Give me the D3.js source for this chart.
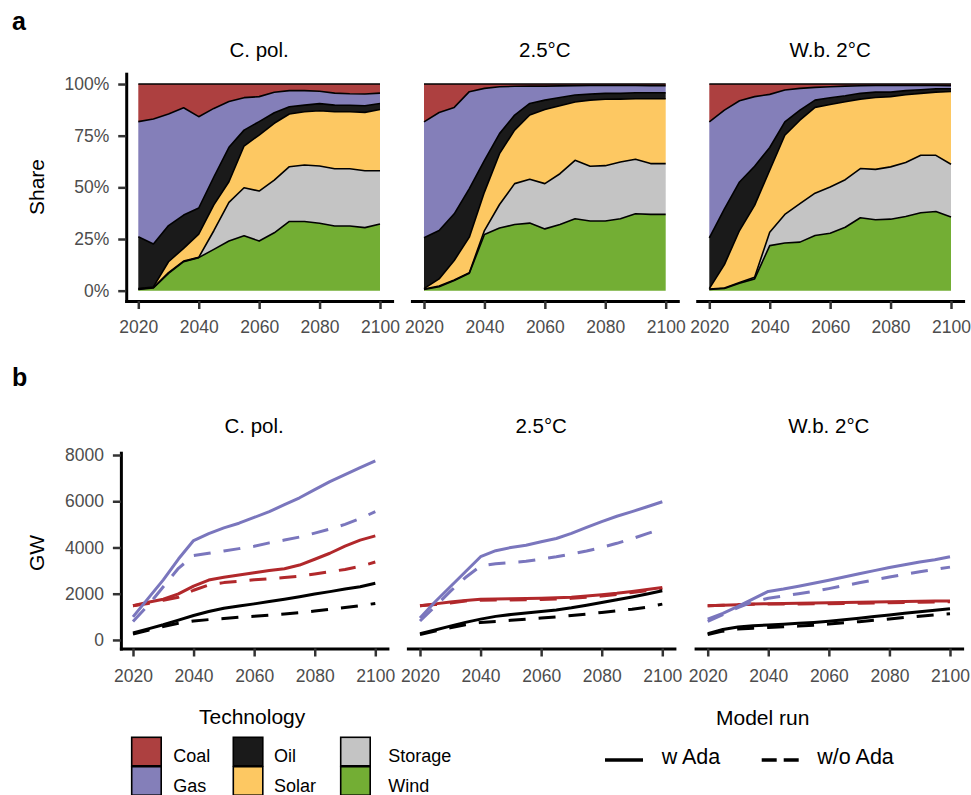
<!DOCTYPE html>
<html>
<head>
<meta charset="utf-8">
<script src="https://cdn.jsdelivr.net/npm/d3@7"></script>
<style>
  body { margin: 0; background: #fff; }
  svg { font-family: "Liberation Sans", Arial, Helvetica, sans-serif; }
  .tick text { fill: #4d4d4d; font-size: 17.5px; }
  .tick line { stroke: #333; stroke-width: 2.5; }
  .domain { stroke: #000; stroke-width: 3; }
</style>
</head>
<body>
<script>
// ---- data ----
var years = [2020, 2025, 2030, 2035, 2040, 2045, 2050, 2055, 2060, 2065, 2070, 2075, 2080, 2085, 2090, 2095, 2100];
var scenarios = ["C. pol.", "2.5°C", "W.b. 2°C"];
var techs = ["Coal", "Gas", "Oil", "Solar", "Storage", "Wind"];
var techColors = ["#ad4040", "#847fb9", "#1a1a1a", "#fdc862", "#c4c4c4", "#73ae34"];
var stackOrder = ["Wind", "Storage", "Solar", "Oil", "Gas", "Coal"];
var xTicks = [2020, 2040, 2060, 2080, 2100];

// shares (%) per technology, one row per scenario
var windShare = [
  [0.6, 1.3, 8.4, 14, 16, 20, 24, 26.6, 24, 28, 33.5, 33.5, 32.6, 31.3, 31.3, 30.5, 32.3],
  [0.6, 1.9, 4.9, 8.4, 27.2, 30.3, 32, 32.7, 29.9, 32, 34.8, 33.7, 33.7, 34.8, 37.2, 36.9, 36.9],
  [0.6, 1.1, 3.6, 5.7, 21.8, 23.1, 23.5, 26.7, 27.8, 30.7, 35.3, 34.3, 34.6, 35.9, 37.7, 38.3, 35.6]
];
var storageShare = [
  [0.2, 0.2, 0.3, 0.3, 0.1, 9, 18.7, 23.2, 24.2, 25.5, 26.5, 27.3, 27.7, 27.7, 27.7, 27.5, 25.7],
  [0.2, 0.4, 0.3, 0.3, 1.9, 11.4, 19.8, 21.2, 21.9, 24.6, 28.3, 26.5, 26.8, 27.5, 26.4, 24.6, 24.6],
  [0.2, 0.2, 0.3, 0.8, 6.5, 13.8, 18.6, 20.5, 22.4, 23, 23.8, 24.4, 25.3, 26.1, 27.8, 27.2, 25.6]
];
var solarShare = [
  [0.2, 0.3, 5.3, 6.2, 11.3, 12.5, 10, 20.2, 27.1, 27.5, 25.5, 25.8, 26.8, 27.6, 27.6, 28.3, 29.7],
  [0.2, 3.4, 9.4, 17.2, 18.6, 24.6, 25.9, 31.1, 35.9, 32.9, 28.2, 32, 32.1, 30.4, 29.3, 31.4, 31.4],
  [0.2, 11.3, 25.2, 34.8, 30, 38.3, 40.4, 41.5, 39.9, 37.7, 33.6, 34.8, 34, 32.8, 30, 30.6, 35.2]
];
var oilShare = [
  [25.1, 20.8, 17.5, 16.1, 12.6, 13.5, 16.7, 7.7, 6.5, 5.1, 3.5, 3.2, 3.4, 3.2, 3.1, 3.2, 2.9],
  [24.6, 23.4, 22.6, 23.5, 15.4, 9.7, 7.3, 5.6, 4.5, 4, 3.4, 2.9, 2.9, 2.8, 2.9, 2.9, 2.9],
  [24.6, 27, 23.5, 18.9, 11, 6.5, 4.9, 3.5, 3.3, 2.9, 2.8, 2.6, 2.2, 2, 1.7, 1.6, 1.3]
];
var gasShare = [
  [55.7, 60.5, 54, 51.9, 44.2, 33.2, 22.1, 15.7, 12.1, 9.9, 7.8, 7, 6, 5.8, 5.6, 5.7, 5],
  [56.1, 57.1, 51.5, 46.9, 34.8, 22.7, 13.9, 8.4, 6.8, 5.6, 4.5, 4.2, 3.8, 3.8, 3.5, 3.4, 3.4],
  [56.1, 47.8, 39.3, 33.7, 25.7, 15.4, 10.5, 6.2, 5.3, 4.7, 3.7, 3.2, 3.2, 2.5, 2.1, 1.6, 1.5]
];
var coalShare = [
  [18.2, 16.9, 14.5, 11.5, 15.8, 11.8, 8.5, 6.6, 6.1, 4, 3.2, 3.2, 3.5, 4.4, 4.7, 4.8, 4.4],
  [18.3, 13.8, 11.3, 3.7, 2.1, 1.3, 1.1, 1, 1, 0.9, 0.8, 0.7, 0.7, 0.7, 0.7, 0.8, 0.8],
  [18.3, 12.6, 8.1, 6.1, 5, 2.9, 2.1, 1.6, 1.3, 1, 0.8, 0.7, 0.7, 0.7, 0.7, 0.7, 0.8]
];

// capacity (GW), w Ada and w/o Ada, one row per scenario
var coalGwW = [
  [1480, 1630, 1760, 1990, 2330, 2590, 2710, 2810, 2910, 3000, 3080, 3240, 3490, 3750, 4060, 4320, 4500],
  [1480, 1560, 1640, 1710, 1760, 1770, 1780, 1790, 1800, 1820, 1850, 1900, 1960, 2020, 2100, 2180, 2270],
  [1480, 1500, 1520, 1550, 1570, 1580, 1590, 1600, 1610, 1620, 1630, 1640, 1650, 1660, 1670, 1680, 1690]
];
var coalGwWo = [
  [1480, 1580, 1720, 1850, 2150, 2380, 2480, 2540, 2600, 2650, 2700, 2760, 2850, 2950, 3050, 3180, 3370],
  [1480, 1530, 1600, 1680, 1720, 1730, 1730, 1740, 1750, 1770, 1800, 1850, 1900, 1970, 2050, 2130, 2220],
  [1480, 1500, 1520, 1540, 1560, 1560, 1560, 1570, 1570, 1580, 1590, 1600, 1610, 1620, 1630, 1640, 1650]
];
var gasGwW = [
  [1000, 1800, 2600, 3500, 4300, 4600, 4850, 5050, 5300, 5550, 5850, 6150, 6500, 6850, 7150, 7450, 7750],
  [950, 1650, 2300, 2950, 3600, 3860, 4000, 4100, 4250, 4390, 4610, 4870, 5120, 5350, 5550, 5760, 5980],
  [900, 1150, 1450, 1780, 2100, 2200, 2320, 2450, 2580, 2720, 2860, 3000, 3130, 3250, 3370, 3470, 3600]
];
var gasGwWo = [
  [800, 1500, 2300, 3100, 3650, 3750, 3850, 3950, 4050, 4200, 4320, 4450, 4620, 4800, 5000, 5250, 5550],
  [820, 1450, 2100, 2700, 3200, 3300, 3350, 3400, 3500, 3600, 3720, 3850, 4000, 4180, 4380, 4600, 4820],
  [800, 1100, 1400, 1650, 1800, 1900, 2000, 2100, 2220, 2350, 2470, 2600, 2720, 2840, 2950, 3050, 3150]
];
var oilGwW = [
  [300, 480, 660, 860, 1060, 1230, 1370, 1470, 1560, 1660, 1760, 1870, 1990, 2090, 2200, 2300, 2450],
  [270, 430, 600, 760, 900, 1020, 1100, 1170, 1230, 1300, 1390, 1500, 1620, 1740, 1860, 1990, 2130],
  [270, 450, 560, 610, 650, 680, 720, 760, 810, 870, 940, 1010, 1080, 1150, 1220, 1280, 1350]
];
var oilGwWo = [
  [250, 420, 580, 720, 820, 880, 930, 980, 1020, 1070, 1120, 1180, 1250, 1330, 1400, 1480, 1580],
  [230, 380, 530, 660, 760, 800, 850, 900, 950, 1000, 1060, 1120, 1190, 1260, 1330, 1420, 1550],
  [230, 380, 470, 510, 540, 570, 600, 640, 690, 740, 790, 850, 910, 970, 1030, 1080, 1130]
];
var lineTechs = ["Coal", "Gas", "Oil"];
var lineColors = ["#b1282b", "#7a76bd", "#000000"];
var runs = ["w Ada", "w/o Ada"];

// ---- layout ----
var shareByTech = {Coal: coalShare, Gas: gasShare, Oil: oilShare, Solar: solarShare, Storage: storageShare, Wind: windShare};
var gwByTech = {Coal: [coalGwW, coalGwWo], Gas: [gasGwW, gasGwWo], Oil: [oilGwW, oilGwWo]};
var color = d3.scaleOrdinal().domain(techs).range(techColors);
var lineColor = d3.scaleOrdinal().domain(lineTechs).range(lineColors);
var dash = d3.scaleOrdinal().domain(runs).range(["none", "17,13"]);

var topLeft = [138.3, 424, 709.3], topW = 241.7;
var botLeft = [133, 420, 707.7], botW = 242.3;

var svg = d3.select("body").append("svg")
    .attr("width", 971)
    .attr("height", 795);

function xScale(left, w) {
    // ggplot-like 5% expansion on each side
    var s = w / 80;
    return d3.scaleLinear().domain([2016, 2104]).range([left - 4 * s, left + 84 * s]);
}

var yShare = d3.scaleLinear().domain([-0.05, 1.05]).range([301, 73.7]);
var yGw = d3.scaleLinear().domain([-370, 8100]).range([648.5, 452.7]);

var stack = d3.stack().keys(stackOrder);

svg.append("text").attr("x", 12).attr("y", 29.5)
    .style("font-size", "25px").style("font-weight", "bold").text("a");
svg.append("text").attr("x", 12).attr("y", 386)
    .style("font-size", "25px").style("font-weight", "bold").text("b");

scenarios.forEach(function(sc, i) {
    // ---- panel a: shares ----
    var x = xScale(topLeft[i], topW);
    var rows = years.map(function(yr, j) {
        var r = {year: yr};
        stackOrder.forEach(function(t) { r[t] = shareByTech[t][i][j] / 100; });
        return r;
    });
    var series = stack(rows);

    var area = d3.area()
        .x(function(d) { return x(d.data.year); })
        .y0(function(d) { return yShare(d[0]); })
        .y1(function(d) { return yShare(d[1]); });
    var upper = d3.line()
        .x(function(d) { return x(d.data.year); })
        .y(function(d) { return yShare(d[1]); });

    var g = svg.append("g");
    g.selectAll("path.area").data(series).enter().append("path")
        .attr("class", "area")
        .attr("d", area)
        .attr("fill", function(d) { return color(d.key); });
    g.selectAll("path.edge").data(series).enter().append("path")
        .attr("class", "edge")
        .attr("d", upper)
        .attr("fill", "none")
        .attr("stroke", "#000")
        .attr("stroke-width", 1.6)
        .attr("stroke-linejoin", "round");

    svg.append("g")
        .attr("transform", "translate(0,301)")
        .call(d3.axisBottom(x).tickValues(xTicks).tickFormat(d3.format("d"))
            .tickSizeInner(8).tickSizeOuter(0).tickPadding(12));

    if (i == 0) {
        svg.append("g")
            .attr("transform", "translate(" + x.range()[0] + ",0)")
            .call(d3.axisLeft(yShare).tickValues([0, 0.25, 0.5, 0.75, 1]).tickFormat(d3.format(".0%"))
                .tickSizeInner(8).tickSizeOuter(0).tickPadding(9));
    }

    svg.append("text")
        .attr("x", (x.range()[0] + x.range()[1]) / 2).attr("y", 56.5)
        .attr("text-anchor", "middle").style("font-size", "20.5px")
        .text(sc);

    // ---- panel b: capacity ----
    var xb = xScale(botLeft[i], botW);
    var lineData = [];
    lineTechs.forEach(function(t) {
        runs.forEach(function(run, k) {
            lineData.push({tech: t, run: run, values: gwByTech[t][k][i]});
        });
    });
    var line = d3.line()
        .x(function(d, j) { return xb(years[j]); })
        .y(function(d) { return yGw(d); });

    svg.append("g").selectAll("path").data(lineData).enter().append("path")
        .attr("d", function(d) { return line(d.values); })
        .attr("fill", "none")
        .attr("stroke", function(d) { return lineColor(d.tech); })
        .attr("stroke-width", 3)
        .attr("stroke-dasharray", function(d) { return dash(d.run); })
        .attr("stroke-linejoin", "round");

    svg.append("g")
        .attr("transform", "translate(0,648.5)")
        .call(d3.axisBottom(xb).tickValues(xTicks).tickFormat(d3.format("d"))
            .tickSizeInner(8).tickSizeOuter(0).tickPadding(12.8));

    if (i == 0) {
        svg.append("g")
            .attr("transform", "translate(" + xb.range()[0] + ",0)")
            .call(d3.axisLeft(yGw).tickValues([0, 2000, 4000, 6000, 8000]).tickFormat(d3.format("d"))
                .tickSizeInner(8).tickSizeOuter(0).tickPadding(9));
    }

    svg.append("text")
        .attr("x", (xb.range()[0] + xb.range()[1]) / 2).attr("y", 432.7)
        .attr("text-anchor", "middle").style("font-size", "20.5px")
        .text(sc);
});

svg.selectAll(".domain").attr("stroke-linecap", "square");

svg.append("text")
    .attr("transform", "translate(44,187) rotate(-90)")
    .attr("text-anchor", "middle").style("font-size", "21px")
    .text("Share");
svg.append("text")
    .attr("transform", "translate(44,553) rotate(-90)")
    .attr("text-anchor", "middle").style("font-size", "21px")
    .text("GW");

// ---- legends ----
svg.append("text").attr("x", 199).attr("y", 724)
    .style("font-size", "21px").text("Technology");

var colX = [131.7, 233.3, 340.7], labX = [173.3, 274, 388.3];
var rowY = [737.3, 766.7];
var leg = svg.append("g").selectAll("g").data(techs).enter().append("g");
leg.append("rect")
    .attr("x", function(d, k) { return colX[Math.floor(k / 2)]; })
    .attr("y", function(d, k) { return rowY[k % 2]; })
    .attr("width", 29.5).attr("height", 28.5)
    .attr("fill", function(d) { return color(d); })
    .attr("stroke", "#000").attr("stroke-width", 1.6);
leg.append("text")
    .attr("x", function(d, k) { return labX[Math.floor(k / 2)]; })
    .attr("y", function(d, k) { return rowY[k % 2] + 25; })
    .style("font-size", "18px")
    .text(function(d) { return d; });

svg.append("text").attr("x", 762.7).attr("y", 725)
    .attr("text-anchor", "middle").style("font-size", "21px").text("Model run");
var keyX = [605, 761.7], keyLab = [661.7, 817.3];
var rl = svg.append("g").selectAll("g").data(runs).enter().append("g");
rl.append("line")
    .attr("x1", function(d, k) { return keyX[k]; })
    .attr("x2", function(d, k) { return keyX[k] + 38; })
    .attr("y1", 760).attr("y2", 760)
    .attr("stroke", "#000").attr("stroke-width", 3.5)
    .attr("stroke-dasharray", function(d) { return d == "w Ada" ? "none" : "15,7"; });
rl.append("text")
    .attr("x", function(d, k) { return keyLab[k]; })
    .attr("y", 764)
    .style("font-size", "21.5px")
    .text(function(d) { return d; });
</script>
</body>
</html>
